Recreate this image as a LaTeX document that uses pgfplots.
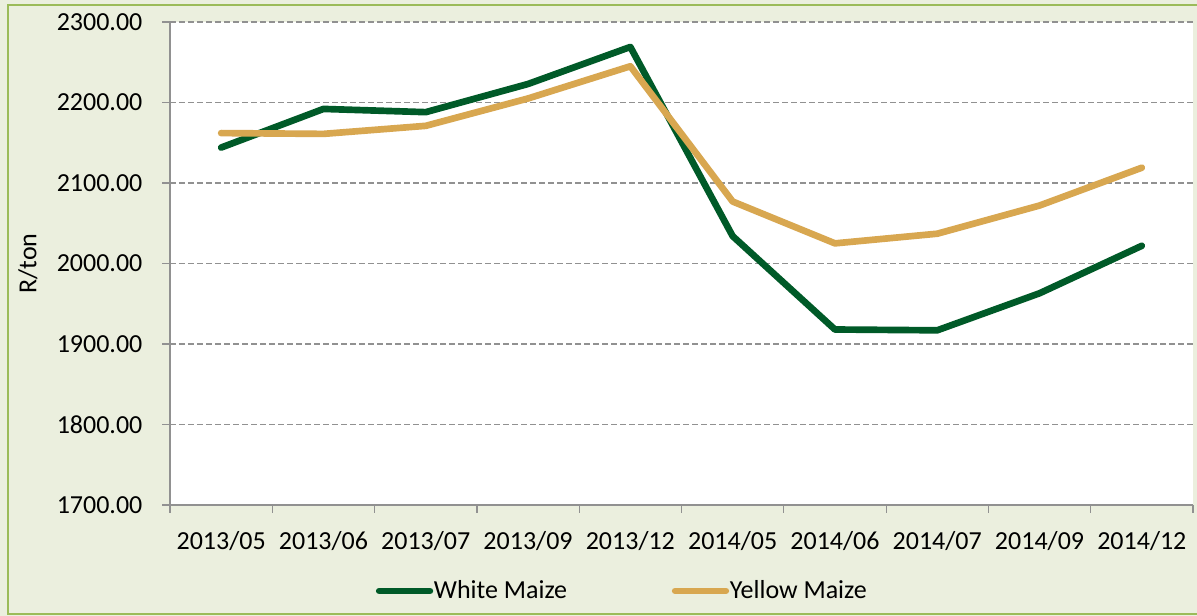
\documentclass[border=0pt]{standalone}
\usepackage{pgfplots}
\pgfplotsset{compat=1.18}
\usepackage{fontspec}
\setmainfont{Carlito}
\definecolor{wm}{RGB}{0,90,40}
\definecolor{ym}{RGB}{216,167,80}
\definecolor{bg}{RGB}{235,239,222}
\definecolor{bd}{RGB}{155,187,89}
\definecolor{gr}{RGB}{145,145,145}
\begin{document}
\fontsize{19.5}{23}\selectfont
\begin{tikzpicture}
\fill[bg] (0pt,0pt) rectangle (897.75pt,462pt);
\useasboundingbox (0pt,0pt) rectangle (897.75pt,462pt);
\draw[bd, line width=1.6pt] (905pt,1.2pt) -- (6pt,1.2pt) -- (6pt,458.5pt) -- (905pt,458.5pt);
\begin{axis}[
  at={(127.5pt,83.25pt)}, anchor=south west,
  scale only axis, width=767.25pt, height=362.25pt,
  xmin=0, xmax=10, ymin=1700, ymax=2300,
  axis background/.style={fill=white},
  axis x line*=bottom, axis y line*=left,
  x axis line style={-}, y axis line style={-},
  axis line style={gr, line width=0.9pt},
  tick style={gr, line width=0.9pt},
  tick align=outside, major tick length=6pt,
  xtick={0,1,2,3,4,5,6,7,8,9,10},
  xticklabels={2013/05,2013/06,2013/07,2013/09,2013/12,2014/05,2014/06,2014/07,2014/09,2014/12,{}},
  xticklabel style={xshift=38.36pt, yshift=-7.5pt, font=\fontsize{19.5}{23}\selectfont},
  ytick={1700,1800,1900,2000,2100,2200,2300},
  yticklabel style={/pgf/number format/.cd, fixed, fixed zerofill, precision=2, 1000 sep={}, /tikz/.cd, xshift=-8pt, font=\fontsize{19.5}{23}\selectfont},
  /pgf/number format/assume math mode=true,
  ymajorgrids, grid style={gr, dash pattern=on 4.5pt off 2.25pt, line width=0.9pt},
  ylabel={R/ton},
  ylabel style={at={(axis description cs:-0.139,0.5)}, anchor=center, rotate=0, font=\fontsize{19.5}{23}\selectfont},
  legend columns=2,
  legend style={draw=none, fill=none, at={(axis description cs:0.201,-0.178)}, anchor=west,
    font=\fontsize{19.5}{23}\selectfont, inner sep=0pt,
    /tikz/every even column/.append style={column sep=78pt},
    nodes={inner sep=0.5pt}},
  legend image code/.code={\draw[#1] (0pt,0pt) -- (38pt,0pt);},
  clip=false,
]
\addplot[wm, line width=5pt, line cap=round, line join=round] coordinates {
(0.5,2144) (1.5,2192) (2.5,2188) (3.5,2223) (4.5,2269)
(5.5,2034) (6.5,1918) (7.5,1917) (8.5,1963) (9.5,2022)};
\addlegendentry{White Maize}
\addplot[ym, line width=5pt, line cap=round, line join=round] coordinates {
(0.5,2162) (1.5,2161) (2.5,2171) (3.5,2205) (4.5,2245)
(5.5,2077) (6.5,2025) (7.5,2037) (8.5,2072) (9.5,2119)};
\addlegendentry{Yellow Maize}
\end{axis}
\end{tikzpicture}
\end{document}
